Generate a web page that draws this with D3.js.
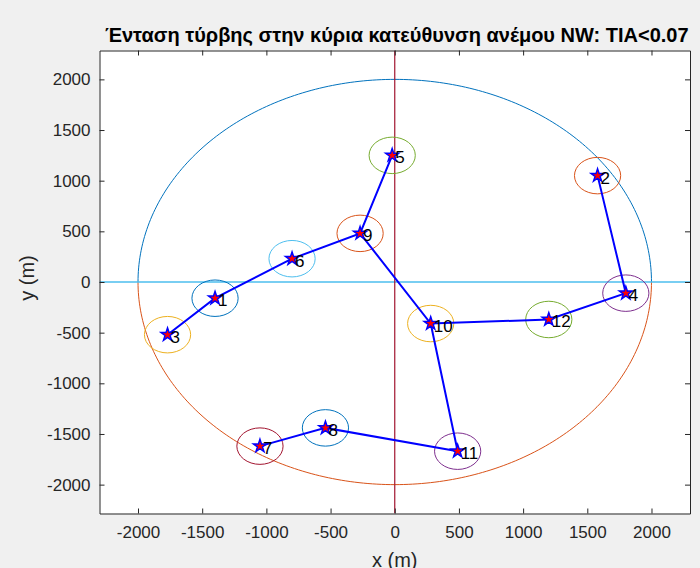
<!DOCTYPE html>
<html>
<head>
<meta charset="utf-8">
<script src="https://cdn.jsdelivr.net/npm/d3@7"></script>
<style>
  body { margin: 0; background: #f0f0f0; }
  svg { display: block; font-family: "Liberation Sans", Arial, sans-serif; }
  .axis path, .axis line { stroke: #262626; }
  .axis text { fill: #262626; font-size: 17px; }
</style>
</head>
<body>
<svg id="chart" width="700" height="568"></svg>
<script>
// turbines
const ids = [1, 2, 3, 4, 5, 6, 7, 8, 9, 10, 11, 12];
const xs = [-1400, 1580, -1770, 1800, -20, -800, -1050, -540, -270, 280, 490, 1200];
const ys = [-160, 1050, -520, -110, 1250, 230, -1620, -1440, 480, -410, -1670, -370];
// cable routes (by turbine id)
const routes = [[3, 1, 6, 9, 5], [9, 10, 12, 4, 2], [10, 11, 8, 7]];
const ticks = [-2000, -1500, -1000, -500, 0, 500, 1000, 1500, 2000];
const zoneRadius = 180;
const siteRadius = 2000;
const title = 'Ένταση τύρβης στην κύρια κατεύθυνση ανέμου NW: TIA<0.07';

const palette = ['#0072BD', '#D95319', '#EDB120', '#7E2F8E', '#77AC30', '#4DBEEE', '#A2142F'];

const svg = d3.select('#chart');
const box = { left: 99.5, right: 690, top: 50.5, bottom: 513.5 };

const x = d3.scaleLinear().domain([-2300, 2300]).range([box.left, box.right]);
const y = d3.scaleLinear().domain([-2285, 2285]).range([box.bottom, box.top]);

svg.append('rect').attr('x', box.left).attr('y', box.top)
  .attr('width', box.right - box.left).attr('height', box.bottom - box.top).attr('fill', '#fff');

const defs = svg.append('defs');
defs.append('clipPath').attr('id', 'clip').append('rect')
  .attr('x', box.left).attr('y', box.top).attr('width', box.right - box.left).attr('height', box.bottom - box.top);

const plot = svg.append('g').attr('clip-path', 'url(#clip)');

// site boundary: upper half, lower half
const half = (a0, a1) => d3.range(0, 181).map(i => {
  const a = a0 + (a1 - a0) * i / 180;
  return [x(siteRadius * Math.cos(a)), y(siteRadius * Math.sin(a))];
});
const line = d3.line();
plot.append('path').attr('d', line(half(0, Math.PI))).attr('fill', 'none').attr('stroke', palette[0]).attr('stroke-width', 1);
plot.append('path').attr('d', line(half(Math.PI, 2 * Math.PI))).attr('fill', 'none').attr('stroke', palette[1]).attr('stroke-width', 1);

// axes through origin
plot.append('line').attr('x1', box.left).attr('x2', box.right).attr('y1', y(0)).attr('y2', y(0))
  .attr('stroke', palette[5]).attr('stroke-width', 1.5);
plot.append('line').attr('x1', x(0)).attr('x2', x(0)).attr('y1', box.top).attr('y2', box.bottom)
  .attr('stroke', palette[6]).attr('stroke-width', 1.2);

// zones around turbines
plot.selectAll('ellipse.zone').data(ids).join('ellipse')
  .attr('class', 'zone')
  .attr('cx', (d, i) => x(xs[i])).attr('cy', (d, i) => y(ys[i]))
  .attr('rx', x(zoneRadius) - x(0)).attr('ry', y(0) - y(zoneRadius))
  .attr('fill', 'none').attr('stroke-width', 1)
  .attr('stroke', (d, i) => palette[i % palette.length]);

// cables
const pos = id => [x(xs[id - 1]), y(ys[id - 1])];
plot.selectAll('path.route').data(routes).join('path')
  .attr('class', 'route')
  .attr('d', r => line(r.map(pos)))
  .attr('fill', 'none').attr('stroke', '#0000ff').attr('stroke-width', 2);

// turbines
const star = d3.symbol().type(d3.symbolStar).size(55);
plot.selectAll('path.turbine').data(ids).join('path')
  .attr('class', 'turbine')
  .attr('d', star)
  .attr('transform', (d, i) => `translate(${ x(xs[i]) },${ y(ys[i]) })`)
  .attr('fill', '#ff0000').attr('stroke', '#0000ff').attr('stroke-width', 1.4);

plot.selectAll('text.label').data(ids).join('text')
  .attr('class', 'label')
  .attr('x', (d, i) => x(xs[i]) + 3).attr('y', (d, i) => y(ys[i]) + 8)
  .attr('font-size', 17).attr('fill', '#000')
  .text(d => d);

// AXES
const fmt = d => String(d);
svg.append('g').attr('class', 'axis').attr('transform', `translate(0,${ box.bottom })`)
  .call(d3.axisBottom(x).tickValues(ticks).tickFormat(fmt).tickSizeInner(-5).tickSizeOuter(0).tickPadding(12));
svg.append('g').attr('class', 'axis').attr('transform', `translate(0,${ box.top })`)
  .call(d3.axisTop(x).tickValues(ticks).tickFormat('').tickSizeInner(-5).tickSizeOuter(0));
svg.append('g').attr('class', 'axis').attr('transform', `translate(${ box.left },0)`)
  .call(d3.axisLeft(y).tickValues(ticks).tickFormat(fmt).tickSizeInner(-5).tickSizeOuter(0).tickPadding(9));
svg.append('g').attr('class', 'axis').attr('transform', `translate(${ box.right },0)`)
  .call(d3.axisRight(y).tickValues(ticks).tickFormat('').tickSizeInner(-5).tickSizeOuter(0));
svg.selectAll('.axis .domain').attr('stroke-width', 1);

// LABELS
svg.append('text').attr('x', (box.left + box.right) / 2).attr('y', 567).attr('text-anchor', 'middle')
  .attr('font-size', 20).attr('fill', '#262626').text('x (m)');
svg.append('text').attr('transform', `translate(34,${ (box.top + box.bottom) / 2 - 4 }) rotate(-90)`)
  .attr('text-anchor', 'middle').attr('font-size', 20).attr('fill', '#262626').text('y (m)');
svg.append('text').attr('x', (box.left + box.right) / 2 + 2).attr('y', 42).attr('text-anchor', 'middle')
  .attr('font-size', 20).attr('font-weight', 'bold').attr('fill', '#000').text(title);
</script>
</body>
</html>
